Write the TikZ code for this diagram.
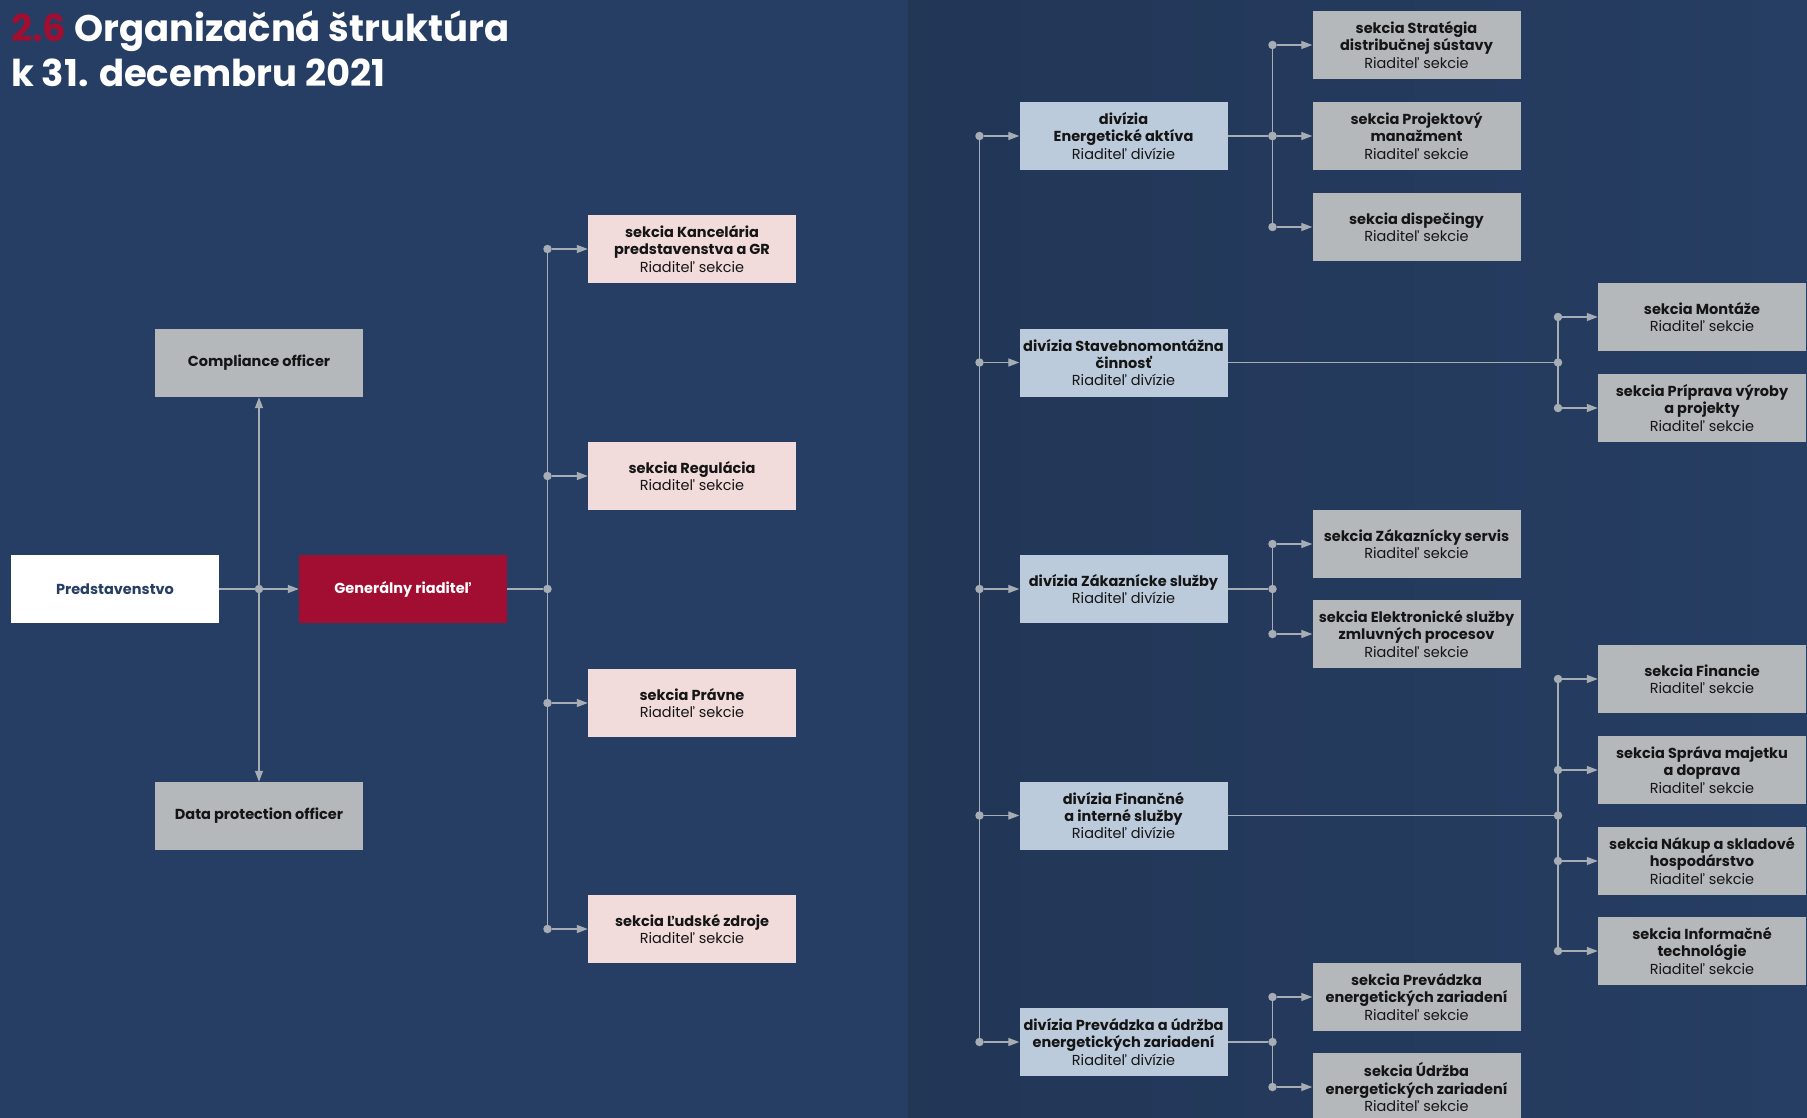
\documentclass[tikz,border=0pt]{standalone}
\usepackage{fontspec}
\setmainfont{Poppins}
\usepackage{tikz}
\usetikzlibrary{calc,shapes,arrows.meta}

\definecolor{pozadie}{HTML}{263E63}
\definecolor{pozadietmave}{HTML}{223656}
\definecolor{cervena}{HTML}{A10E31}
\definecolor{seda}{HTML}{B5B8BB}
\definecolor{ruzova}{HTML}{F2DCDB}
\definecolor{modra}{HTML}{BCCBDC}
\definecolor{ciara}{HTML}{A7ADB5}
\definecolor{pismo}{HTML}{151515}

\tikzset{
    jednotka/.style={minimum width=208pt, minimum height=68pt, inner sep=1pt,
        align=center, text=pismo, font=\fontsize{14.5}{17.2}\selectfont\bfseries},
    sedy/.style={jednotka, fill=seda},
    ruzovy/.style={jednotka, fill=ruzova},
    divizia/.style={jednotka, fill=modra},
    spoj/.style={draw=ciara, line width=1.3pt},
    sipka/.style={spoj, -{Triangle[length=11pt,width=8pt]}},
    bod/.style={circle, fill=ciara, inner sep=0pt, minimum size=8.5pt}
}

\begin{document}
\begin{tikzpicture}[x=1pt, y=-1pt]
    % pozadie
    \useasboundingbox (0,0) rectangle (1807,1118);
    \fill[pozadie] (0,0) rectangle (908,1118);
    \shade[left color=pozadietmave, right color=pozadie] (908,0) rectangle (1807,1118);

    % nadpis
    \node[anchor=base west, inner sep=0pt, text=white, font=\fontsize{37}{42}\selectfont\bfseries]
        (nadpis1) at (11,42) {\textcolor{cervena}{2.6} Organizačná štruktúra};
    \node[anchor=base west, inner sep=0pt, text=white, font=\fontsize{37}{42}\selectfont\bfseries]
        (nadpis2) at (11,87) {k 31. decembru 2021};

    % lava cast
    \node[jednotka, fill=white, text=pozadie] (pred) at (115,589) {Predstavenstvo};
    \node[jednotka, fill=cervena, text=white] (gr) at (403,589) {Generálny riaditeľ};
    \node[sedy] (co) at (259,363) {Compliance officer};
    \node[sedy] (dpo) at (259,816) {Data protection officer};

    \node[bod] (j0) at (259,589) {};
    \draw[spoj] (pred) -- (j0);
    \draw[sipka] (j0) -- (gr);
    \draw[sipka] (j0) -- (co);
    \draw[sipka] (j0) -- (dpo);

    \foreach \meno/\yy/\popis in {s1/249/{sekcia Kancelária\\predstavenstva a GR},
                          s2/476/{sekcia Regulácia},
                          s3/703/{sekcia Právne},
                          s4/929/{sekcia Ľudské zdroje}}
        \node[ruzovy] (\meno) at (692,\yy) {\popis\\{\mdseries Riaditeľ sekcie}};

    \node[bod] (j1) at (547.5,589) {};
    \draw[spoj] (gr) -- (j1);
    \draw[spoj] (j1 |- s1) -- (j1 |- s4);
    \foreach \meno in {s1,s2,s3,s4}
    {
        \node[bod] (b\meno) at (j1 |- \meno) {};
        \draw[sipka] (b\meno) -- (\meno);
    }

    % prava cast - divizie
    \foreach \meno/\yy/\popis in {d1/136/{divízia\\Energetické aktíva},
                          d2/362.5/{divízia Stavebnomontážna\\činnosť},
                          d3/589/{divízia Zákaznícke služby},
                          d4/815.5/{divízia Finančné\\a interné služby},
                          d5/1042/{divízia Prevádzka a údržba\\energetických zariadení}}
        \node[divizia] (\meno) at (1123.5,\yy) {\popis\\{\mdseries Riaditeľ divízie}};

    \coordinate (hl) at (979.5,0);
    \draw[spoj] (hl |- d1) -- (hl |- d5);
    \foreach \meno in {d1,d2,d3,d4,d5}
    {
        \node[bod] (b\meno) at (hl |- \meno) {};
        \draw[sipka] (b\meno) -- (\meno);
    }

    % sekcie
    \foreach \meno/\xx/\yy/\popis in {e1/1416.5/45/{sekcia Stratégia\\distribučnej sústavy},
                             e2/1416.5/136/{sekcia Projektový\\manažment},
                             e3/1416.5/227/{sekcia dispečingy},
                             e4/1416.5/544/{sekcia Zákaznícky servis},
                             e5/1416.5/634/{sekcia Elektronické služby\\zmluvných procesov},
                             e6/1416.5/997/{sekcia Prevádzka\\energetických zariadení},
                             e7/1416.5/1087/{sekcia Údržba\\energetických zariadení},
                             f1/1702/317/{sekcia Montáže},
                             f2/1702/408/{sekcia Príprava výroby\\a projekty},
                             f3/1702/679/{sekcia Financie},
                             f4/1702/770/{sekcia Správa majetku\\a doprava},
                             f5/1702/861/{sekcia Nákup a skladové\\hospodárstvo},
                             f6/1702/951/{sekcia Informačné\\technológie}}
        \node[sedy] (\meno) at (\xx,\yy) {\popis\\{\mdseries Riaditeľ sekcie}};

    \coordinate (k1) at (1272.5,0);
    \coordinate (k2) at (1558,0);
    \foreach \dv/\kx/\od/\po/\zoznam in {d1/k1/e1/e3/{e1,e2,e3},
                                    d3/k1/e4/e5/{e4,e5},
                                    d5/k1/e6/e7/{e6,e7},
                                    d2/k2/f1/f2/{f1,f2},
                                    d4/k2/f3/f6/{f3,f4,f5,f6}}
    {
        \node[bod] (u\dv) at (\kx |- \dv) {};
        \draw[spoj] (\dv) -- (u\dv);
        \draw[spoj] (\kx |- \od) -- (\kx |- \po);
        \foreach \meno in \zoznam
        {
            \node[bod] (b\meno) at (\kx |- \meno) {};
            \draw[sipka] (b\meno) -- (\meno);
        }
    }
\end{tikzpicture}
\end{document}
